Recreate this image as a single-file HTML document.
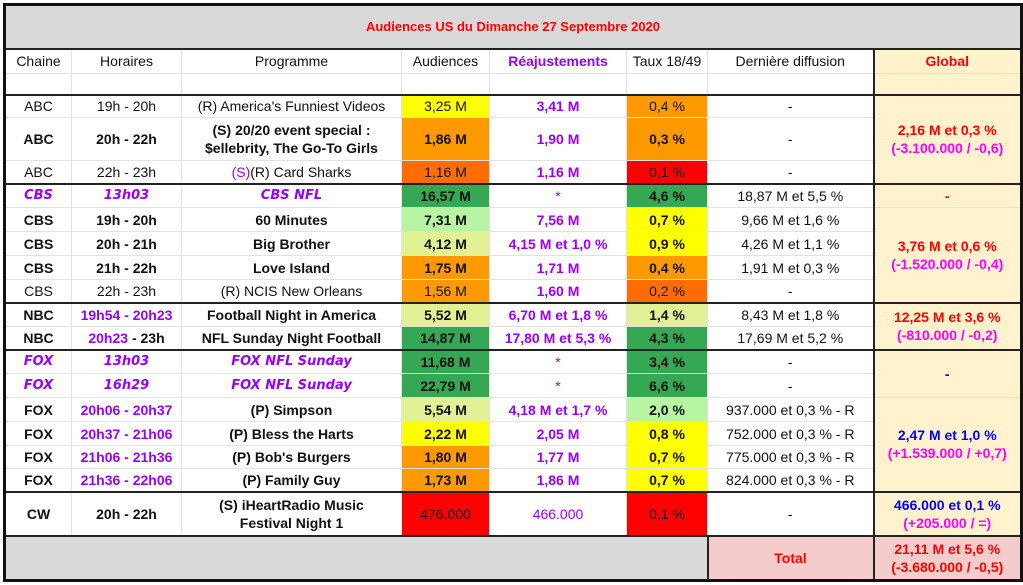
<!DOCTYPE html>
<html><head><meta charset="utf-8"><style>
body{margin:0;background:#fff;width:1023px;height:585px;overflow:hidden;font-family:"Liberation Sans",Arial,sans-serif;}
table{position:absolute;left:3px;top:3px;border-collapse:collapse;table-layout:fixed;font-size:14px;color:#111;}
td{border:1px solid #e2e2e2;text-align:center;padding:0;overflow:hidden;white-space:nowrap;line-height:18px}
.b{font-weight:bold}
.p{color:#9900ff}
.r{color:#ff0000}
.m{color:#ff00ff}
.bl{color:#0000ff}
.c{font-style:italic;font-weight:bold;color:#9900ff;font-family:"DejaVu Sans",sans-serif;font-size:13px}
.gl{background:#fff2cc}
.y{background:#ffff00}.o{background:#ff9900}.do{background:#ff6d01}.rd{background:#ff0000}.g{background:#34a853}.lg{background:#b7f5a2}.ly{background:#e2f194}
.tk td{border-bottom:2px solid #222}
.tt td{border-top:2px solid #222}
</style></head><body>
<table style="border:3px solid #111">
<colgroup><col style="width:67px"><col style="width:110px"><col style="width:220px"><col style="width:88px"><col style="width:137px"><col style="width:81px"><col style="width:166px"><col style="width:148px"></colgroup>
<tr style="height:44px"><td colspan="8" class="b r" style="background:#d9d9d9;font-size:13px;border-bottom:2px solid #222">Audiences US du Dimanche 27 Septembre 2020</td></tr>
<tr style="height:25px"><td>Chaine</td><td>Horaires</td><td>Programme</td><td>Audiences</td><td class="b p">Réajustements</td><td>Taux 18/49</td><td>Dernière diffusion</td><td class="gl b r" style="border-left:2px solid #222">Global</td></tr>
<tr style="height:21px" class="tk"><td></td><td></td><td></td><td></td><td></td><td></td><td></td><td class="gl" style="border-left:2px solid #222"></td></tr>
<tr style="height:23px"><td>ABC</td><td>19h - 20h</td><td>(R) America's Funniest Videos</td><td class="y">3,25 M</td><td class="b p">3,41 M</td><td class="o">0,4 %</td><td>-</td><td rowspan="3" class="gl b" style="border-left:2px solid #222;border-bottom:2px solid #222"><span class="r">2,16 M et 0,3 %</span><br><span class="m">(-3.100.000 / -0,6)</span></td></tr>
<tr style="height:43px" class="b"><td>ABC</td><td>20h - 22h</td><td>(S) 20/20 event special :<br>$ellebrity, The Go-To Girls</td><td class="o">1,86 M</td><td class="p">1,90 M</td><td class="o">0,3 %</td><td style="font-weight:normal">-</td></tr>
<tr style="height:23px" class="tk"><td>ABC</td><td>22h - 23h</td><td><span class="p">(S)</span>(R) Card Sharks</td><td class="do">1,16 M</td><td class="b p">1,16 M</td><td class="rd">0,1 %</td><td>-</td></tr>
<tr style="height:24px"><td class="c">CBS</td><td class="c">13h03</td><td class="c">CBS NFL</td><td class="g b">16,57 M</td><td class="p">*</td><td class="g b">4,6 %</td><td>18,87 M et 5,5 %</td><td class="gl b r" style="border-left:2px solid #222">-</td></tr>
<tr style="height:24px" class="b"><td>CBS</td><td>19h - 20h</td><td>60 Minutes</td><td class="lg">7,31 M</td><td class="p">7,56 M</td><td class="y">0,7 %</td><td style="font-weight:normal">9,66 M et 1,6 %</td><td rowspan="4" class="gl" style="border-left:2px solid #222;border-bottom:2px solid #222"><span class="r">3,76 M et 0,6 %</span><br><span class="m">(-1.520.000 / -0,4)</span></td></tr>
<tr style="height:24px" class="b"><td>CBS</td><td>20h - 21h</td><td>Big Brother</td><td class="ly">4,12 M</td><td class="p">4,15 M et 1,0 %</td><td class="y">0,9 %</td><td style="font-weight:normal">4,26 M et 1,1 %</td></tr>
<tr style="height:24px" class="b"><td>CBS</td><td>21h - 22h</td><td>Love Island</td><td class="o">1,75 M</td><td class="p">1,71 M</td><td class="o">0,4 %</td><td style="font-weight:normal">1,91 M et 0,3 %</td></tr>
<tr style="height:23px" class="tk"><td>CBS</td><td>22h - 23h</td><td>(R) NCIS New Orleans</td><td class="o">1,56 M</td><td class="b p">1,60 M</td><td class="do">0,2 %</td><td>-</td></tr>
<tr style="height:24px" class="b"><td>NBC</td><td class="p">19h54 - 20h23</td><td>Football Night in America</td><td class="ly">5,52 M</td><td class="p">6,70 M et 1,8 %</td><td class="ly">1,4 %</td><td style="font-weight:normal">8,43 M et 1,8 %</td><td rowspan="2" class="gl" style="border-left:2px solid #222;border-bottom:2px solid #222"><span class="r">12,25 M et 3,6 %</span><br><span class="m">(-810.000 / -0,2)</span></td></tr>
<tr style="height:23px" class="b tk"><td>NBC</td><td><span class="p">20h23</span> - 23h</td><td>NFL Sunday Night Football</td><td class="g">14,87 M</td><td class="p">17,80 M et 5,3 %</td><td class="g">4,3 %</td><td style="font-weight:normal">17,69 M et 5,2 %</td></tr>
<tr style="height:24px"><td class="c">FOX</td><td class="c">13h03</td><td class="c">FOX NFL Sunday</td><td class="g b">11,68 M</td><td class="p">*</td><td class="g b">3,4 %</td><td>-</td><td rowspan="2" class="gl b bl" style="border-left:2px solid #222">-</td></tr>
<tr style="height:24px"><td class="c">FOX</td><td class="c">16h29</td><td class="c">FOX NFL Sunday</td><td class="g b">22,79 M</td><td class="p">*</td><td class="g b">6,6 %</td><td>-</td></tr>
<tr style="height:24px" class="b"><td>FOX</td><td class="p">20h06 - 20h37</td><td>(P) Simpson</td><td class="ly">5,54 M</td><td class="p">4,18 M et 1,7 %</td><td class="lg">2,0 %</td><td style="font-weight:normal">937.000 et 0,3 % - R</td><td rowspan="4" class="gl b" style="border-left:2px solid #222;border-bottom:2px solid #222"><span class="bl">2,47 M et 1,0 %</span><br><span class="m">(+1.539.000 / +0,7)</span></td></tr>
<tr style="height:24px" class="b"><td>FOX</td><td class="p">20h37 - 21h06</td><td>(P) Bless the Harts</td><td class="y">2,22 M</td><td class="p">2,05 M</td><td class="y">0,8 %</td><td style="font-weight:normal">752.000 et 0,3 % - R</td></tr>
<tr style="height:23px" class="b"><td>FOX</td><td class="p">21h06 - 21h36</td><td>(P) Bob's Burgers</td><td class="o">1,80 M</td><td class="p">1,77 M</td><td class="y">0,7 %</td><td style="font-weight:normal">775.000 et 0,3 % - R</td></tr>
<tr style="height:23px" class="b tk"><td>FOX</td><td class="p">21h36 - 22h06</td><td>(P) Family Guy</td><td class="o">1,73 M</td><td class="p">1,86 M</td><td class="y">0,7 %</td><td style="font-weight:normal">824.000 et 0,3 % - R</td></tr>
<tr style="height:44px" class="b tk"><td>CW</td><td>20h - 22h</td><td>(S) iHeartRadio Music<br>Festival Night 1</td><td class="rd" style="font-weight:normal">476.000</td><td class="p" style="font-weight:normal">466.000</td><td class="rd" style="font-weight:normal">0,1 %</td><td style="font-weight:normal">-</td><td class="gl" style="border-left:2px solid #222"><span class="bl">466.000 et 0,1 %</span><br><span class="m">(+205.000 / =)</span></td></tr>
<tr style="height:45px" class="b"><td colspan="6" style="background:#d9d9d9;border-right:2px solid #222"></td><td class="r" style="background:#f4cccc">Total</td><td class="r" style="background:#f4cccc;border-left:2px solid #222">21,11 M et 5,6 %<br>(-3.680.000 / -0,5)</td></tr>
</table>
</body></html>
